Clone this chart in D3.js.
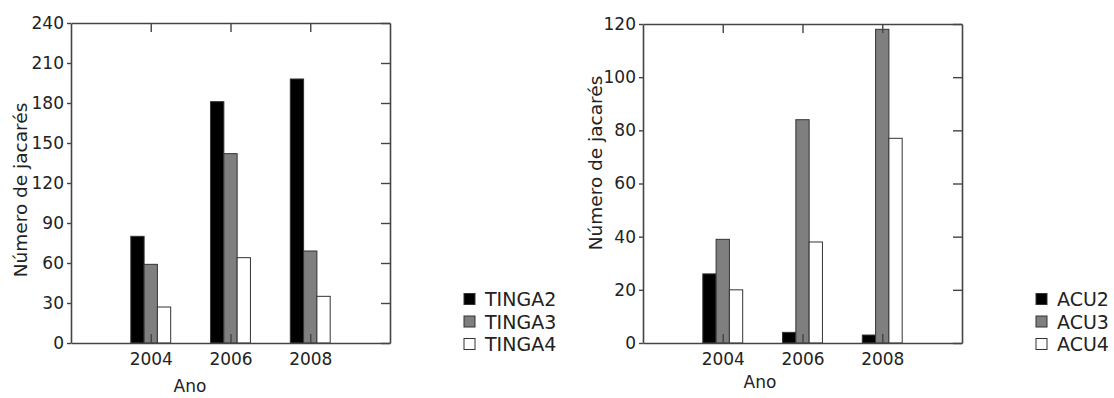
<!DOCTYPE html>
<html>
<head>
<meta charset="utf-8">
<script src="https://cdn.jsdelivr.net/npm/d3@7"></script>
<style>
  body { margin: 0; background: #fff; }
  text { font-family: "DejaVu Sans", sans-serif; fill: #222; }
</style>
</head>
<body>
<div id="chart"></div>
<script>
const years= [2004, 2006, 2008];

const tingaSeries= ['TINGA2', 'TINGA3', 'TINGA4'];
const tinga2= [80, 181, 198];
const tinga3= [59, 142, 69];
const tinga4= [27, 64, 35];
const tingaTicks= [0, 30, 60, 90, 120, 150, 180, 210, 240];

const acuSeries= ['ACU2', 'ACU3', 'ACU4'];
const acu2= [26, 4, 3];
const acu3= [39, 84, 118];
const acu4= [20, 38, 77];
const acuTicks= [0, 20, 40, 60, 80, 100, 120];

const fills= ['#000', '#7f7f7f', '#fff'];

const W= 1114, H= 398;
const svg= d3.select('#chart').append('svg').attr('width', W).attr('height', H);

function chart(o) {
  const x= d3.scaleLinear().domain([2002, 2010]).range([o.x0, o.x1]);
  const y= d3.scaleLinear().domain([0, o.ticks[o.ticks.length-1]]).range([o.y1, o.y0]);
  const g= svg.append('g');

  // bars
  o.values.forEach((vals, si) => {
    vals.forEach((v, i) => {
      const inner= d3.scaleBand().domain(o.series)
        .range([x(years[i]-0.5), x(years[i]+0.5)]);
      g.append('rect')
        .attr('x', inner(o.series[si]))
        .attr('y', y(v))
        .attr('width', inner.bandwidth())
        .attr('height', y(0)-y(v))
        .attr('fill', fills[si])
        .attr('stroke', '#333')
        .attr('stroke-width', 1);
    });
  });

  const axStyle= sel => {
    sel.selectAll('.domain').attr('stroke', '#444').attr('stroke-width', 1.6);
    sel.selectAll('.tick line').attr('stroke', '#444').attr('stroke-width', 1.4);
    sel.selectAll('text').attr('font-size', 17).attr('fill', '#222')
      .attr('font-family', '"DejaVu Sans", sans-serif');
  };

  g.append('g').attr('transform', `translate(${o.x0},0)`)
    .call(d3.axisLeft(y).tickValues(o.ticks).tickSizeInner(4).tickSizeOuter(0).tickPadding(3))
    .call(axStyle);
  g.append('g').attr('transform', `translate(${o.x1},0)`)
    .call(d3.axisRight(y).tickValues(o.ticks).tickSizeInner(-9).tickSizeOuter(0).tickFormat(''))
    .call(axStyle);
  g.append('g').attr('transform', `translate(0,${o.y0})`)
    .call(d3.axisTop(x).tickValues(years).tickSizeInner(-9).tickSizeOuter(0).tickFormat(''))
    .call(axStyle);
  g.append('g').attr('transform', `translate(0,${o.y1})`)
    .call(d3.axisBottom(x).tickValues(years).tickSizeInner(-9).tickSizeOuter(0)
      .tickFormat(d3.format('d')).tickPadding(10))
    .call(axStyle);

  g.append('text')
    .attr('transform', `translate(${o.ytX},${o.ytY}) rotate(-90)`)
    .attr('text-anchor', 'middle').attr('dominant-baseline', 'central')
    .attr('font-size', 18.5).attr('fill', '#333')
    .text('Número de jacarés');

  g.append('text')
    .attr('x', o.xtX).attr('y', o.xtY)
    .attr('text-anchor', 'middle').attr('dominant-baseline', 'central')
    .attr('font-size', 17).attr('fill', '#333')
    .text('Ano');

  // legend
  const lg= g.append('g').attr('transform', `translate(${o.lgX},${o.lgY})`);
  o.series.forEach((s, i) => {
    const row= lg.append('g').attr('transform', `translate(0,${i*22.5})`);
    row.append('rect').attr('x', 0).attr('y', -5.5).attr('width', 11).attr('height', 11)
      .attr('fill', fills[i]).attr('stroke', '#333').attr('stroke-width', 1);
    row.append('text').attr('x', 21).attr('y', 0)
      .attr('dominant-baseline', 'central')
      .attr('font-size', 19).attr('fill', '#222')
      .text(s);
  });
}

chart({
  series: tingaSeries, values: [tinga2, tinga3, tinga4], ticks: tingaTicks,
  x0: 71, x1: 390, y0: 23, y1: 343,
  ytX: 20, ytY: 190, xtX: 190, xtY: 386,
  lgX: 464, lgY: 299
});

chart({
  series: acuSeries, values: [acu2, acu3, acu4], ticks: acuTicks,
  x0: 643, x1: 962, y0: 24, y1: 343,
  ytX: 595, ytY: 163, xtX: 760, xtY: 382,
  lgX: 1036, lgY: 299
});
</script>
</body>
</html>
